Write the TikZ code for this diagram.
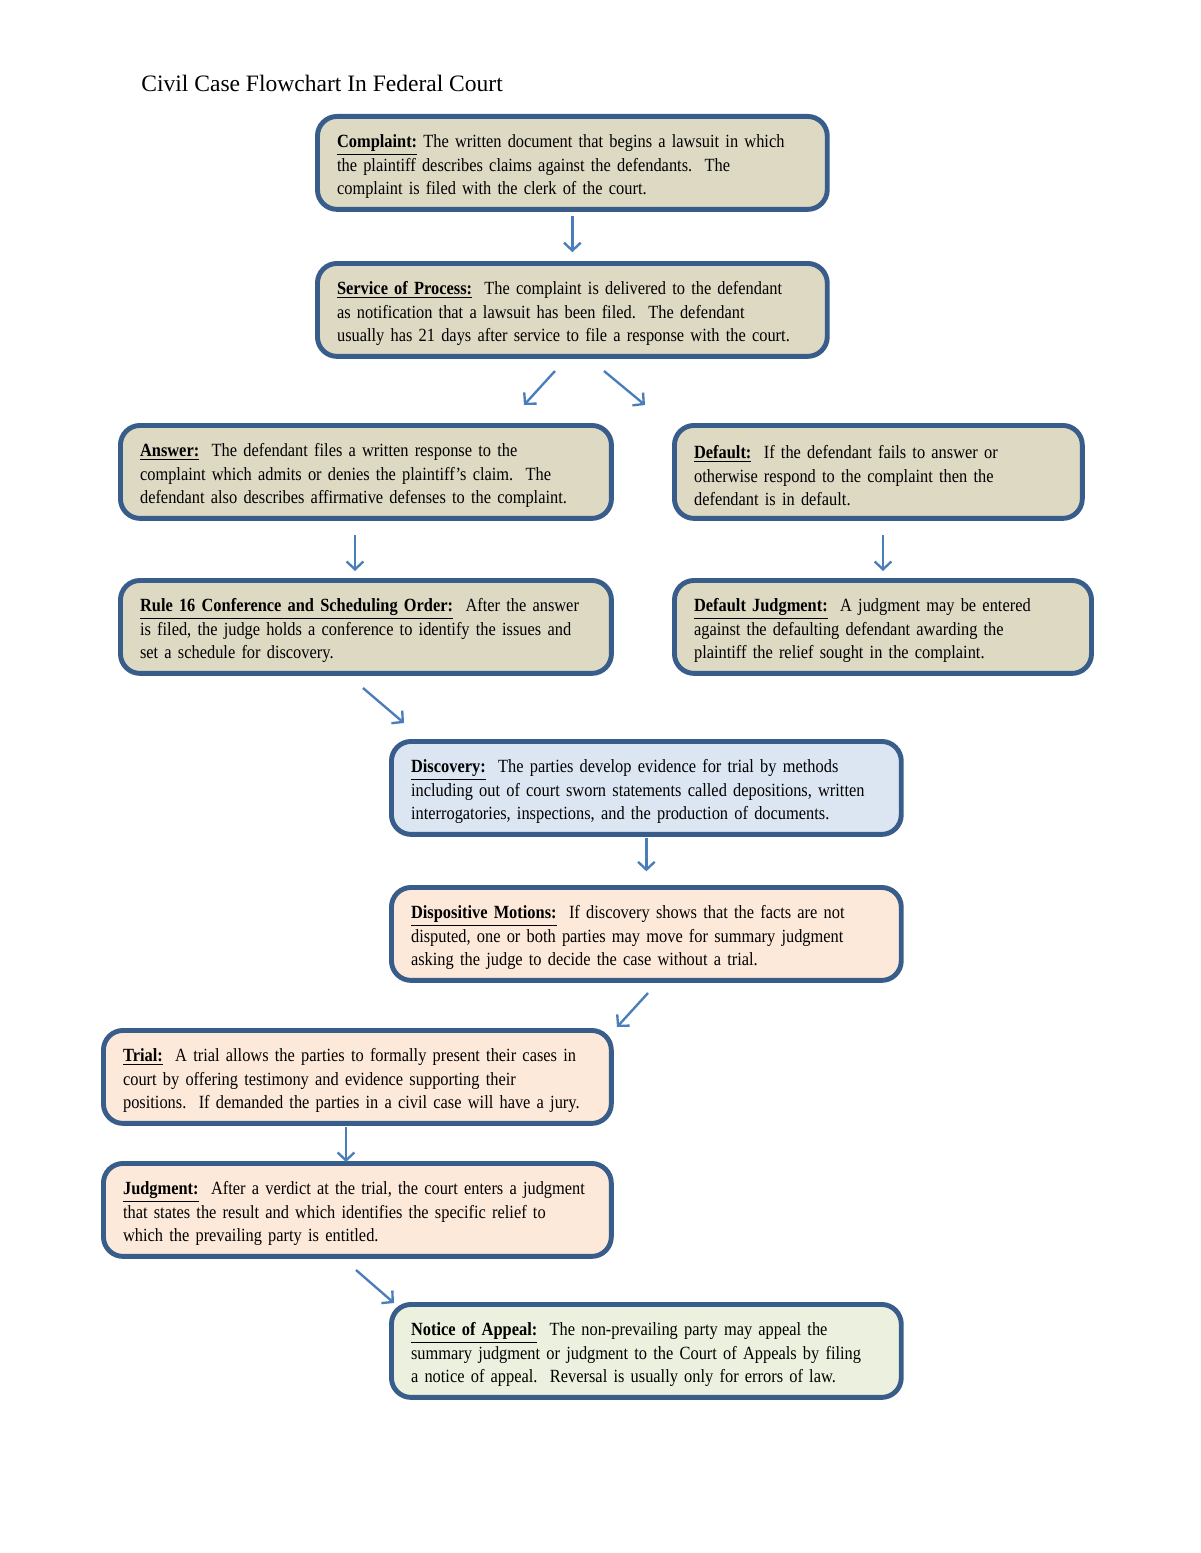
\documentclass[tikz,border=0pt]{standalone}
\usepackage{fontspec}
\setmainfont[FakeStretch=0.88]{Liberation Serif}
\newfontfamily\titlefont{Liberation Serif}
\usetikzlibrary{arrows.meta}

\definecolor{boxline}{HTML}{385D8A}
\definecolor{arrowblue}{HTML}{4A7EBB}
\definecolor{tanfill}{HTML}{DDD9C3}
\definecolor{bluefill}{HTML}{DCE6F2}
\definecolor{peachfill}{HTML}{FDE9D9}
\definecolor{greenfill}{HTML}{EBF1DE}

\newcommand{\heading}[1]{\rule{0pt}{10.5pt}\underline{\textbf{#1}}}

\tikzset{
  stage/.style={draw=boxline, line width=2.5pt, rounded corners=10pt, anchor=north west,
    inner xsep=10pt, inner ysep=0pt, minimum height=47.4pt, align=left,
    font=\fontsize{9.5}{12}\selectfont},
  flow/.style={draw=arrowblue, line width=1.2pt, -{Straight Barb[length=4pt,width=8.5pt]}},
}

\begin{document}
\begin{tikzpicture}[x=0.51pt, y=-0.51pt]
  \useasboundingbox (0,0) rectangle (1200,1553);

  \node[anchor=base west, inner sep=0pt, font=\titlefont\fontsize{12}{14}\selectfont] (title) at (141,92)
    {Civil Case Flowchart In Federal Court};

  % first column of steps
  \node[stage, fill=tanfill, text width=240pt] (complaint) at (315,114)
    {\heading{Complaint:} The written document that begins a lawsuit in which\\
     the plaintiff describes claims against the defendants.\ \ The\\
     complaint is filed with the clerk of the court.};
  \node[stage, fill=tanfill, text width=240pt] (service) at (315,261)
    {\heading{Service of Process:}\ \ The complaint is delivered to the defendant\\
     as notification that a lawsuit has been filed.\ \ The defendant\\
     usually has 21 days after service to file a response with the court.};

  % two branches
  \node[stage, fill=tanfill, text width=230.4pt] (answer) at (118,423)
    {\heading{Answer:}\ \ The defendant files a written response to the\\
     complaint which admits or denies the plaintiff's claim.\ \ The\\
     defendant also describes affirmative defenses to the complaint.};
  \node[stage, fill=tanfill, text width=188pt] (default) at (672,423)
    {\heading{Default:}\ \ If the defendant fails to answer or\\
     otherwise respond to the complaint then the\\
     defendant is in default.};
  \node[stage, fill=tanfill, text width=230.4pt] (rule) at (118,578)
    {\heading{Rule 16 Conference and Scheduling Order:}\ \ After the answer\\
     is filed, the judge holds a conference to identify the issues and\\
     set a schedule for discovery.};
  \node[stage, fill=tanfill, text width=192.7pt] (defjudgment) at (672,578)
    {\heading{Default Judgment:}\ \ A judgment may be entered\\
     against the defaulting defendant awarding the\\
     plaintiff the relief sought in the complaint.};

  % after the conference
  \node[stage, fill=bluefill, text width=240pt] (discovery) at (389,739)
    {\heading{Discovery:}\ \ The parties develop evidence for trial by methods\\
     including out of court sworn statements called depositions, written\\
     interrogatories, inspections, and the production of documents.};
  \node[stage, fill=peachfill, text width=240pt] (motions) at (389,885)
    {\heading{Dispositive Motions:}\ \ If discovery shows that the facts are not\\
     disputed, one or both parties may move for summary judgment\\
     asking the judge to decide the case without a trial.};
  \node[stage, fill=peachfill, text width=239pt] (trial) at (101,1028)
    {\heading{Trial:}\ \ A trial allows the parties to formally present their cases in\\
     court by offering testimony and evidence supporting their\\
     positions.\ \ If demanded the parties in a civil case will have a jury.};
  \node[stage, fill=peachfill, text width=239pt] (judgment) at (101,1161)
    {\heading{Judgment:}\ \ After a verdict at the trial, the court enters a judgment\\
     that states the result and which identifies the specific relief to\\
     which the prevailing party is entitled.};
  \node[stage, fill=greenfill, text width=240pt] (appeal) at (389,1302)
    {\heading{Notice of Appeal:}\ \ The non-prevailing party may appeal the\\
     summary judgment or judgment to the Court of Appeals by filing\\
     a notice of appeal.\ \ Reversal is usually only for errors of law.};

  % arrow ends
  \coordinate (sv-an-a) at (555,371);   \coordinate (sv-an-b) at (524,405);
  \coordinate (sv-df-a) at (604,371);   \coordinate (sv-df-b) at (645,405);
  \coordinate (an-ru-a) at (355,535);   \coordinate (an-ru-b) at (355,571);
  \coordinate (df-dj-a) at (883,535);   \coordinate (df-dj-b) at (883,571);
  \coordinate (ru-di-a) at (363,688);   \coordinate (ru-di-b) at (404,723);
  \coordinate (mo-tr-a) at (648,993);   \coordinate (mo-tr-b) at (617,1027);
  \coordinate (tr-ju-a) at (346,1127);  \coordinate (tr-ju-b) at (346,1162);
  \coordinate (ju-ap-a) at (356,1270);  \coordinate (ju-ap-b) at (394,1303);

  \draw[flow, shorten <=2pt, shorten >=4.5pt] (complaint) -- (service);
  \draw[flow] (sv-an-a) -- (sv-an-b);
  \draw[flow] (sv-df-a) -- (sv-df-b);
  \draw[flow] (an-ru-a) -- (an-ru-b);
  \draw[flow] (df-dj-a) -- (df-dj-b);
  \draw[flow] (ru-di-a) -- (ru-di-b);
  \draw[flow, shorten <=0.5pt, shorten >=7pt] (discovery) -- (motions);
  \draw[flow] (mo-tr-a) -- (mo-tr-b);
  \draw[flow] (tr-ju-a) -- (tr-ju-b);
  \draw[flow] (ju-ap-a) -- (ju-ap-b);
\end{tikzpicture}
\end{document}
